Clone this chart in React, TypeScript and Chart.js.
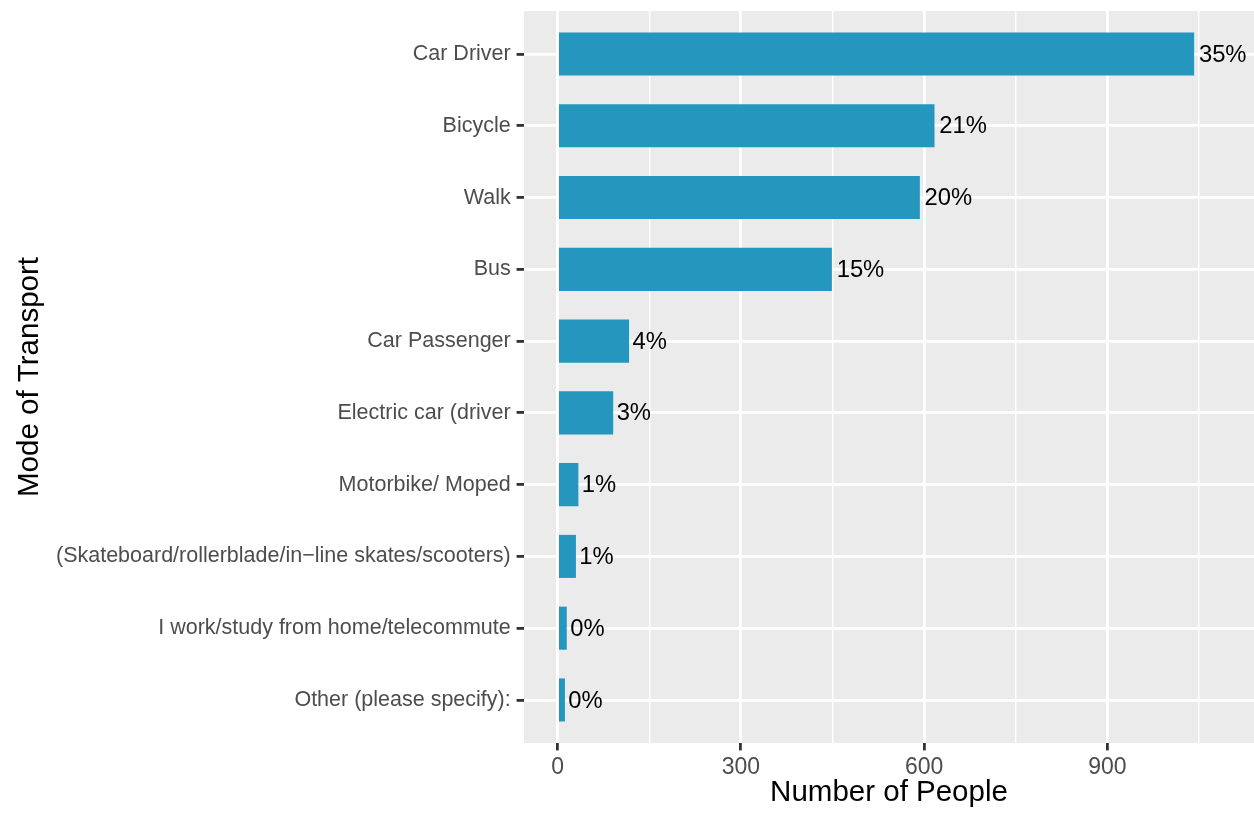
import React, { useEffect, useRef } from "react";
import { Chart, registerables } from "chart.js";

Chart.register(...registerables);

const categories: string[] = [
  "Car Driver",
  "Bicycle",
  "Walk",
  "Bus",
  "Car Passenger",
  "Electric car (driver",
  "Motorbike/ Moped",
  "(Skateboard/rollerblade/in\u2212line skates/scooters)",
  "I work/study from home/telecommute",
  "Other (please specify):",
];

const counts: number[] = [1042, 617, 593, 449, 117, 91, 34, 30, 15, 12];

const percentLabels: string[] = ["35%", "21%", "20%", "15%", "4%", "3%", "1%", "1%", "0%", "0%"];

const xTickValues: number[] = [0, 150, 300, 450, 600, 750, 900, 1050];
const xMajorTicks: number[] = [0, 300, 600, 900];

const xTitle = "Number of People";
const yTitle = "Mode of Transport";

const FONT = "'Liberation Sans', Arial, Helvetica, sans-serif";
const BAR_COLOR = "#2596BE";
const PANEL_BG = "#EBEBEB";

export default function App() {
  const canvasRef = useRef<HTMLCanvasElement | null>(null);

  useEffect(() => {
    document.body.style.margin = "0";
    const canvas = canvasRef.current;
    if (!canvas) return;

    const panelPlugin = {
      id: "panelBg",
      beforeDraw(chart: any) {
        const { ctx, chartArea } = chart;
        ctx.save();
        ctx.fillStyle = PANEL_BG;
        ctx.fillRect(chartArea.left, chartArea.top, chartArea.right - chartArea.left, chartArea.bottom - chartArea.top);
        ctx.restore();
      },
    };

    const labelPlugin = {
      id: "barLabels",
      afterDatasetsDraw(chart: any) {
        const { ctx } = chart;
        const meta = chart.getDatasetMeta(0);
        ctx.save();
        ctx.font = `23.8px ${FONT}`;
        ctx.fillStyle = "#000000";
        ctx.textBaseline = "middle";
        ctx.textAlign = "left";
        meta.data.forEach((el: any, i: number) => {
          const txt = percentLabels[i];
          const w = ctx.measureText(txt).width;
          ctx.fillText(txt, el.x + 0.1 * w, el.y + 1);
        });
        ctx.restore();
      },
    };

    const titlePlugin = {
      id: "axisTitles",
      afterDraw(chart: any) {
        const { ctx, chartArea } = chart;
        ctx.save();
        ctx.fillStyle = "#000000";
        ctx.font = `29.5px ${FONT}`;
        ctx.textAlign = "center";
        ctx.textBaseline = "alphabetic";
        ctx.fillText(xTitle, (chartArea.left + chartArea.right) / 2, 801);
        ctx.translate(37.5, (chartArea.top + chartArea.bottom) / 2);
        ctx.rotate(-Math.PI / 2);
        ctx.fillText(yTitle, 0, 0);
        ctx.restore();
      },
    };

    const chart = new Chart(canvas, {
      type: "bar",
      data: {
        datasets: [
          {
            data: categories.map((c, i) => ({ x: counts[i], y: i })),
            backgroundColor: BAR_COLOR,
            borderWidth: 0,
            barPercentage: 0.6,
            categoryPercentage: 1.0,
          },
        ],
      },
      options: {
        indexAxis: "y",
        animation: false,
        responsive: false,
        devicePixelRatio: 1,
        layout: { padding: { top: 11, right: 0, left: 0, bottom: 0 } },
        plugins: {
          legend: { display: false },
          tooltip: { enabled: false },
          title: { display: false },
        },
        scales: {
          x: {
            type: "linear",
            position: "bottom",
            offset: false,
            min: -55,
            max: 1140,
            afterBuildTicks: (scale: any) => {
              scale.ticks = xTickValues.map((v) => ({ value: v }));
            },
            afterFit: (scale: any) => {
              scale.height = 71;
              scale.paddingLeft = 0;
              scale.paddingRight = 0;
            },
            border: { display: false },
            grid: {
              offset: false,
              color: "#FFFFFF",
              lineWidth: (ctx: any) => (ctx.tick && xMajorTicks.includes(ctx.tick.value) ? 2.8 : 1.4),
              drawTicks: true,
              tickLength: 7.4,
              tickWidth: 2.8,
              tickColor: (ctx: any) => (ctx.tick && xMajorTicks.includes(ctx.tick.value) ? "#333333" : "rgba(0,0,0,0)"),
            },
            ticks: {
              autoSkip: false,
              maxRotation: 0,
              padding: 3,
              color: "#4D4D4D",
              font: { family: FONT, size: 23 },
              callback: (v: any) => (xMajorTicks.includes(Number(v)) ? String(v) : ""),
            },
          },
          y: {
            type: "linear",
            reverse: true,
            offset: false,
            min: -0.6,
            max: 9.6,
            afterBuildTicks: (scale: any) => {
              scale.ticks = categories.map((c, i) => ({ value: i }));
            },
            afterFit: (scale: any) => {
              scale.width = 524;
              scale.paddingTop = 0;
              scale.paddingBottom = 0;
            },
            border: { display: false },
            grid: {
              offset: false,
              color: "#FFFFFF",
              lineWidth: 2.8,
              drawTicks: true,
              tickLength: 7.4,
              tickWidth: 2.8,
              tickColor: "#333333",
            },
            ticks: {
              autoSkip: false,
              padding: 5.9,
              color: "#4D4D4D",
              font: { family: FONT, size: 21.5 },
              callback: (v: any) => categories[Number(v)] ?? "",
            },
          },
        },
      },
      plugins: [panelPlugin, labelPlugin, titlePlugin],
    } as any);

    return () => {
      chart.destroy();
    };
  }, []);

  return (
    <div style={{ position: "absolute", left: 0, top: 0, width: 1254, height: 814, background: "#FFFFFF" }}>
      <canvas ref={canvasRef} width={1254} height={814} style={{ width: 1254, height: 814, display: "block" }} />
    </div>
  );
}
